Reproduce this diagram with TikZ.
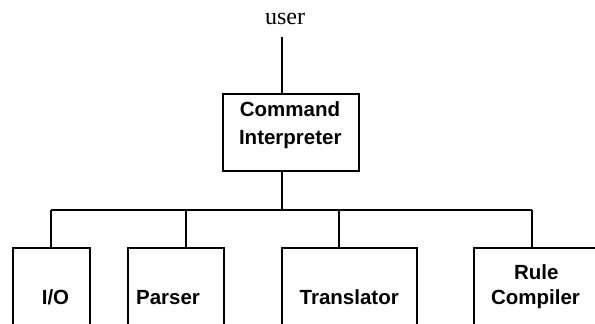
\documentclass[tikz,border=0pt]{standalone}
\usepackage{fontspec}
\setmainfont{Liberation Serif}
\newfontfamily\boxfont{Liberation Sans}
\begin{document}
\begin{tikzpicture}[x=1pt,y=-1pt,
  line width=1.8pt,
  modbox/.style={draw, rectangle, outer sep=0pt, inner sep=0pt, anchor=north west, minimum height=#1},
  modbox/.default=100pt,
  lbl/.style={anchor=base, inner sep=0pt, font=\boxfont\bfseries\fontsize{20.5}{24}\selectfont},
  usr/.style={anchor=base, inner sep=0pt, font=\fontsize{24}{28}\selectfont}]
\useasboundingbox (0,0) rectangle (595,324);
\clip (0,0) rectangle (595,324);

% top-level module
\node[modbox=76.4pt, minimum width=135.7pt] (cmd) at (223.3,94.3) {};
\node[lbl] (cmdA) at (290,116.7) {Command};
\node[lbl] (cmdB) at (290.3,144) {Interpreter};

% sub-modules (run off the lower edge)
\node[modbox, minimum width=77.3pt]  (io)   at (12.7,248) {};
\node[modbox, minimum width=95.7pt]  (pars) at (128.3,248) {};
\node[modbox, minimum width=135pt]   (tran) at (281.7,248) {};
\node[modbox, minimum width=200pt]   (rule) at (474,248) {};

\node[lbl] (ioT)   at (55.5,304)  {I/O};
\node[lbl] (parsT) at (168,304)   {Parser};
\node[lbl] (tranT) at (349.2,304) {Translator};
\node[lbl] (ruleA) at (536.3,279.5) {Rule};
\node[lbl] (ruleB) at (535.5,304.5) {Compiler};

% user input
\node[usr] (user) at (285,24) {user};
\coordinate (uin) at (281.7,37);
\draw (uin) -- (uin |- cmd.north);

% distribution bus
\coordinate (hub) at (281.7,210);
\coordinate (j1) at (51,210);
\coordinate (j2) at (185.7,210);
\coordinate (j3) at (339.3,210);
\coordinate (j4) at (531.7,210);
\draw (hub |- cmd.south) -- (hub);
\draw (j1) -- (j4);
\draw (j1) -- (j1 |- io.north);
\draw (j2) -- (j2 |- pars.north);
\draw (j3) -- (j3 |- tran.north);
\draw (j4) -- (j4 |- rule.north);
\end{tikzpicture}
\end{document}
